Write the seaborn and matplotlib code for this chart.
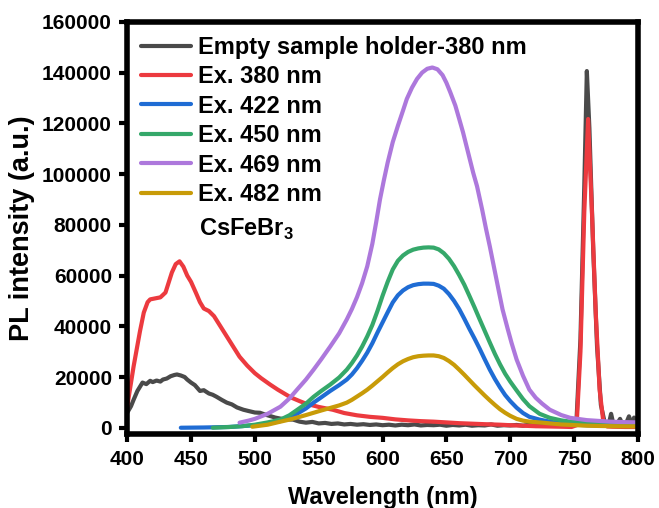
import seaborn as sns
import matplotlib.pyplot as plt

# ---- data ----
wl_empty = [400, 403, 405, 408, 412, 415, 418, 420, 423, 426, 428, 431, 434, 437, 439, 442, 445, 447,
            450, 453, 457, 460, 464, 467, 470, 474, 478, 482, 486, 491, 495, 500, 504, 508, 512, 516,
            520, 525, 530, 535, 540, 545, 550, 555, 560, 565, 570, 575, 580, 585, 590, 595, 600, 605,
            610, 615, 620, 625, 630, 635, 640, 645, 650, 655, 660, 665, 670, 675, 680, 685, 690, 695,
            700, 705, 710, 715, 720, 725, 730, 735, 740, 745, 749, 752, 755, 758, 760, 762, 765, 768,
            771, 774, 777, 779, 781, 783, 786, 788, 790, 793, 795, 797, 800]
pl_empty = [5900, 8500, 11000, 14500, 17800, 17200, 18500, 18000, 18600, 18200, 19000, 19400, 20300,
            20800, 21000, 20600, 20000, 19000, 17800, 16800, 14500, 14800, 13500, 13000, 12200, 11000,
            9900, 9200, 8000, 7100, 6600, 6000, 5900, 5200, 4600, 4000, 3600, 3300, 3200, 2400, 2000,
            2300, 1700, 1900, 1500, 1700, 1300, 1500, 1200, 1400, 1100, 1300, 1000, 1200, 900, 1200,
            1000, 1300, 900, 1100, 1000, 1200, 800, 1100, 900, 1200, 800, 1000, 900, 1300, 800, 1000,
            900, 1100, 800, 1200, 700, 1000, 800, 1100, 700, 900, 1000, 4000, 35000, 95000, 140600,
            118000, 70000, 32000, 9000, 2000, 1000, 5500, 1000, 900, 3500, 1200, 800, 4500, 1500, 4000,
            1800]

wl_380 = [400, 405, 410, 413, 416, 418, 422, 426, 430, 435, 438, 441, 444, 447, 450, 454, 457, 460,
          464, 468, 473, 478, 483, 488, 494, 500, 505, 512, 518, 522, 528, 535, 540, 550, 561, 570,
          580, 590, 600, 610, 620, 630, 640, 650, 660, 670, 680, 692, 700, 710, 720, 730, 740, 748,
          752, 755, 758, 761, 764, 767, 770, 773, 776, 780, 790, 800]
pl_380 = [8300, 24100, 38000, 45400, 49500, 50600, 51000, 51400, 53300, 61200, 64500, 65600, 63500,
          60000, 57500, 53000, 49500, 47000, 46000, 44000, 40000, 36000, 32000, 28000, 24500, 21500,
          19500, 17000, 15000, 13800, 12000, 10500, 9500, 8200, 7100, 5800, 4900, 4300, 3900, 3300,
          2900, 2600, 2400, 2100, 1800, 1600, 1400, 1200, 1000, 800, 600, 500, 400, 300, 1000, 30000,
          85000, 121700, 85000, 45000, 15000, 2000, 500, 400, 300, 300]

wl_422 = [442, 460, 480, 500, 510, 520, 527, 533, 540, 546, 552, 559, 566, 572, 576, 580, 584, 588,
          592, 596, 600, 604, 608, 612, 616, 620, 624, 628, 632, 636, 640, 644, 648, 652, 656, 660,
          664, 668, 672, 676, 680, 684, 688, 692, 696, 700, 705, 710, 715, 723, 731, 740, 750, 765,
          780, 800]
pl_422 = [0, 100, 300, 1000, 1700, 2600, 3900, 5500, 7600, 9900, 12000, 14500, 16800, 19000, 21000,
          23500, 26400, 29600, 33300, 37500, 41500, 45500, 49400, 52200, 54100, 55400, 56200, 56600,
          56800, 56800, 56700, 56000, 54800, 52700, 50000, 46800, 43000, 39000, 35200, 31200, 27000,
          22900, 19200, 15900, 12900, 10500, 7900, 5800, 4300, 3200, 2400, 1700, 1200, 900, 800, 700]

wl_450 = [467, 480, 490, 500, 510, 520, 527, 533, 540, 546, 552, 559, 566, 572, 576, 580, 584, 588,
          592, 596, 600, 604, 608, 612, 616, 620, 624, 628, 632, 636, 640, 644, 648, 652, 656, 660,
          664, 668, 672, 676, 680, 684, 688, 692, 696, 700, 705, 710, 715, 723, 731, 740, 747, 760,
          780, 800]
pl_450 = [0, 300, 600, 1200, 2100, 3200, 4900, 7000, 9500, 12200, 14500, 17000, 19800, 22900, 25500,
          28500, 32000, 36000, 40500, 46000, 52000, 57500, 62400, 65800, 67900, 69300, 70200, 70700,
          71000, 71100, 71000, 70300, 68800, 66600, 63700, 60200, 56400, 52000, 47500, 42800, 38200,
          33600, 29100, 25000, 21300, 18200, 14700, 11300, 8500, 5500, 3900, 2900, 2400, 1800, 1400,
          1200]

wl_469 = [488, 495, 500, 510, 520, 527, 533, 540, 546, 552, 559, 566, 572, 576, 580, 584, 588, 592,
          595, 598, 601, 604, 608, 612, 616, 619, 623, 627, 631, 635, 639, 643, 647, 650, 653, 657,
          660, 663, 667, 671, 674, 678, 681, 684, 688, 691, 694, 698, 701, 705, 710, 715, 720, 725,
          731, 740, 747, 760, 778, 790, 800]
pl_469 = [2000, 2800, 3500, 5500, 8300, 11500, 15000, 19000, 22900, 27000, 32000, 37200, 42700, 46800,
          51500, 57000, 63600, 72500, 81000, 90000, 97500, 104500, 112600, 119000, 125000, 129600,
          134000, 137500, 140000, 141500, 142000, 141300, 139000, 136000, 132300, 127000, 121800,
          116500, 108500, 100500, 95200, 86000, 78500, 71500, 61500, 54000, 46600, 39000, 33500,
          26900, 20500, 15000, 11800, 9500, 7100, 5000, 3900, 3000, 2400, 2200, 2100]

wl_482 = [498, 510, 520, 527, 533, 540, 546, 552, 559, 566, 572, 576, 580, 584, 588, 592, 596, 600,
          604, 608, 612, 616, 620, 624, 628, 632, 636, 640, 644, 648, 652, 656, 660, 664, 668, 672,
          676, 680, 684, 688, 692, 696, 700, 705, 710, 715, 725, 740, 760, 780, 800]
pl_482 = [400, 1200, 2400, 3200, 4000, 5000, 5900, 6800, 7800, 8800, 9900, 11000, 12300, 13600, 15000,
          16600, 18300, 20000, 21800, 23500, 25000, 26200, 27100, 27800, 28200, 28400, 28500, 28500,
          28200, 27500, 26300, 24800, 22900, 20900, 18800, 16700, 14700, 12700, 10800, 9000, 7300,
          5900, 4700, 3500, 2800, 2400, 2000, 1300, 800, 600, 500]

series = [
    (wl_empty, pl_empty, 'Empty sample holder-380 nm', '#4a4a4a'),
    (wl_380, pl_380, 'Ex. 380 nm', '#ec3a3f'),
    (wl_422, pl_422, 'Ex. 422 nm', '#1f6cd4'),
    (wl_450, pl_450, 'Ex. 450 nm', '#35a86a'),
    (wl_469, pl_469, 'Ex. 469 nm', '#ad78dc'),
    (wl_482, pl_482, 'Ex. 482 nm', '#c89b08'),
]

sns.set_theme(style='ticks')
plt.rcParams['font.family'] = ['Liberation Sans', 'DejaVu Sans']
plt.rcParams['font.weight'] = 'bold'
plt.rcParams['mathtext.fontset'] = 'custom'
plt.rcParams['mathtext.rm'] = 'Liberation Sans:bold'
plt.rcParams['mathtext.bf'] = 'Liberation Sans:bold'
for key in ['text.color', 'axes.labelcolor', 'xtick.color', 'ytick.color']:
    plt.rcParams[key] = 'black'

fig = plt.figure(figsize=(6.59, 5.08), dpi=100)
ax = fig.add_axes([0.193, 0.146, 0.775, 0.811])

for x, y, lab, col in series:
    sns.lineplot(x=x, y=y, color=col, linewidth=3, label=lab, ax=ax)

ax.set_xlim(400, 800)
ax.set_ylim(-2400, 160000)
ax.set_xticks(range(400, 801, 50))
ax.set_yticks(range(0, 160001, 20000))
ax.tick_params(direction='out', length=6, width=3, labelsize=15, colors='black')
ax.tick_params(axis='y', pad=5)
ax.tick_params(axis='x', pad=6)
for s in ax.spines.values():
    s.set_linewidth(4)
    s.set_color('black')
for t in ax.get_xticklabels() + ax.get_yticklabels():
    t.set_fontweight('bold')

ax.set_xlabel('Wavelength (nm)', fontsize=17, fontweight='bold', labelpad=12, color='black')
ax.set_ylabel('PL intensity (a.u.)', fontsize=19.5, fontweight='bold', labelpad=5, color='black')

leg = ax.legend(loc='upper left', frameon=False, prop={'size': 17, 'weight': 'bold'},
                handlelength=2.1, handletextpad=0.3, labelspacing=0.27,
                borderaxespad=0.3, borderpad=0.3)
for h in leg.get_lines():
    h.set_linewidth(3)
for t in leg.get_texts():
    t.set_color('black')

ax.text(0.14, 0.495, r'CsFeBr$_\mathbf{3}$', transform=ax.transAxes, fontsize=17,
        fontweight='bold', va='center', ha='left', color='black')

fig.savefig('out.png', dpi=100)
